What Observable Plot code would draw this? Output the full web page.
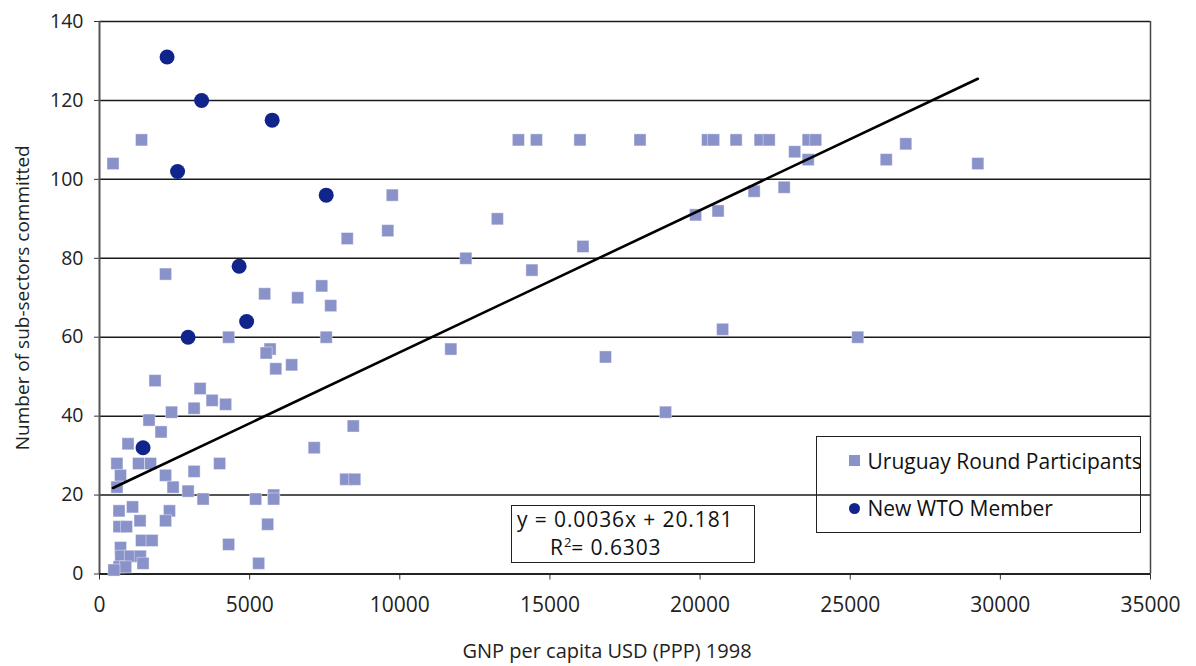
<!DOCTYPE html>
<html>
<head>
<meta charset="utf-8">
<script src="https://cdn.jsdelivr.net/npm/d3@7"></script>
<script src="https://cdn.jsdelivr.net/npm/@observablehq/plot@0.6"></script>
<style>
  body { margin: 0; background: #fff; font-family: "Open Sans", sans-serif; }
  #wrap { position: relative; width: 1196px; height: 666px; }
  .box { position: absolute; border: 1.5px solid #222; box-sizing: border-box; color: #111; }
  .row { position: absolute; display: flex; align-items: center; gap: 8px; height: 30px; font-size: 21px; white-space: nowrap; }
  .sq { width: 11px; height: 11px; background: #8A93C9; flex: none; }
  .ci { width: 11px; height: 11px; border-radius: 50%; background: #10248C; flex: none; }
  .eq { position: absolute; font-size: 21px; letter-spacing: 0.9px; white-space: nowrap; line-height: 28px; }
  .eq sup { font-size: 13px; vertical-align: 8px; line-height: 0; letter-spacing: 0; }
</style>
</head>
<body>
<div id="wrap"></div>
<script>
// ---- data ----
const seriesNames = ["Uruguay Round Participants", "New WTO Member"];

const uruguayGnp = [
  450, 1400, 2200, 4300, 5680, 5550, 5870, 6400, 1850, 3350,
  3750, 4200, 3150, 2400, 1650, 2050, 950, 580, 1300, 1700,
  4000, 700, 2200, 3150, 580, 2450, 2950, 3450, 5200, 5800,
  5800, 650, 1100, 2330, 2200, 1350, 5600, 650, 900, 1400,
  1750, 4300, 700, 710, 1030, 1360, 1450, 650, 870, 480,
  5300, 5500, 6600, 7400, 7700, 7550, 8250, 9600, 9750, 12200,
  11700, 8450, 7150, 8200, 8500, 13250, 14400, 16100, 13950, 14550,
  16000, 18000, 20250, 20450, 21200, 22000, 22300, 23600, 23850, 23150,
  23600, 26200, 26850, 29250, 19850, 20600, 21800, 22800, 20750, 25250,
  16850, 18850
];
const uruguaySectors = [
  104, 110, 76, 60, 57, 56, 52, 53, 49, 47,
  44, 43, 42, 41, 39, 36, 33, 28, 28, 28,
  28, 25, 25, 26, 22, 22, 21, 19, 19, 20,
  19, 16, 17, 16, 13.5, 13.5, 12.6, 12, 12, 8.5,
  8.5, 7.5, 6.7, 4.5, 4.5, 4.5, 2.7, 1.8, 1.8, 1,
  2.7, 71, 70, 73, 68, 60, 85, 87, 96, 80,
  57, 37.5, 32, 24, 24, 90, 77, 83, 110, 110,
  110, 110, 110, 110, 110, 110, 110, 110, 110, 107,
  105, 105, 109, 104, 91, 92, 97, 98, 62, 60,
  55, 41
];

const newMemberGnp = [2250, 3400, 5750, 2600, 7550, 4650, 4900, 2950, 1450];
const newMemberSectors = [131, 120, 115, 102, 96, 78, 64, 60, 32];

// fitted trend shown on the chart
const trendSlope = 0.0036;
const trendIntercept = 20.181;
const trendLabel = "y = 0.0036x + 20.181";
const rSquaredLabel = "0.6303";

const xTicks = [0, 5000, 10000, 15000, 20000, 25000, 30000, 35000];
const yTicks = [0, 20, 40, 60, 80, 100, 120, 140];
const xTitle = "GNP per capita USD (PPP) 1998";
const yTitle = "Number of sub-sectors committed";

// ---- build tables ----
const uruguay = uruguayGnp.map((g, i) => ({gnp: g, sectors: uruguaySectors[i]}));
const members = newMemberGnp.map((g, i) => ({gnp: g, sectors: newMemberSectors[i]}));
const allGnp = uruguayGnp.concat(newMemberGnp);
const trend = [d3.min(allGnp), d3.max(allGnp)].map(g => ({gnp: g, sectors: trendSlope * g + trendIntercept}));

const chart = Plot.plot({
  width: 1196,
  height: 666,
  marginLeft: 99,
  marginRight: 46,
  marginTop: 21,
  marginBottom: 92.5,
  style: {fontFamily: '"Open Sans", sans-serif', fontSize: "20px", color: "#222", background: "#fff"},
  x: {domain: [0, 35000]},
  y: {domain: [0, 140]},
  marks: [
    Plot.ruleY(yTicks.filter(d => d > 0), {stroke: "#1a1a1a", strokeWidth: 1.5}),
    Plot.ruleX([35000], {stroke: "#444", strokeWidth: 1.5}),
    Plot.axisX({ticks: xTicks, tickSize: 6, tickPadding: 17, tickFormat: d => String(d), fontSize: 21, label: null, stroke: "#333"}),
    Plot.axisY({ticks: yTicks, tickSize: 5, tickPadding: 11, tickFormat: d => String(d), fontSize: 19.5, label: null, stroke: "#333"}),
    Plot.ruleX([0], {stroke: "#555", strokeWidth: 2}),
    Plot.ruleY([0], {stroke: "#222", strokeWidth: 2}),
    Plot.dot(uruguay, {x: "gnp", y: "sectors", symbol: "square", r: 6.8, fill: "#8A93C9", stroke: "#fff", strokeWidth: 0.4}),
    Plot.dot(members, {x: "gnp", y: "sectors", r: 7.5, fill: "#10248C"}),
    Plot.line(trend, {x: "gnp", y: "sectors", stroke: "#000", strokeWidth: 2.6}),
    Plot.text([xTitle], {frameAnchor: "bottom", lineAnchor: "middle", textAnchor: "middle", dy: 78, dx: -18, fontSize: 20, fill: "#222"}),
    Plot.text([yTitle], {frameAnchor: "left", lineAnchor: "middle", textAnchor: "middle", dx: -77, rotate: -90, fontSize: 19, fill: "#222"})
  ]
});

const wrap = document.getElementById("wrap");
wrap.appendChild(chart);

// legend box
const legend = document.createElement("div");
legend.className = "box";
Object.assign(legend.style, {left: "816px", top: "436px", width: "325px", height: "97px"});
legend.innerHTML =
  `<div class="row" style="left:31.5px;top:8.5px"><span class="sq"></span><span>${seriesNames[0]}</span></div>` +
  `<div class="row" style="left:31.5px;top:56px"><span class="ci"></span><span>${seriesNames[1]}</span></div>`;
wrap.appendChild(legend);

// equation box
const eq = document.createElement("div");
eq.className = "box";
Object.assign(eq.style, {left: "511px", top: "505px", width: "244px", height: "58px"});
eq.innerHTML =
  `<div class="eq" style="left:5px;top:-1px">${trendLabel}</div>` +
  `<div class="eq" style="left:38px;top:27px">R<sup>2</sup>= ${rSquaredLabel}</div>`;
wrap.appendChild(eq);
</script>
</body>
</html>
